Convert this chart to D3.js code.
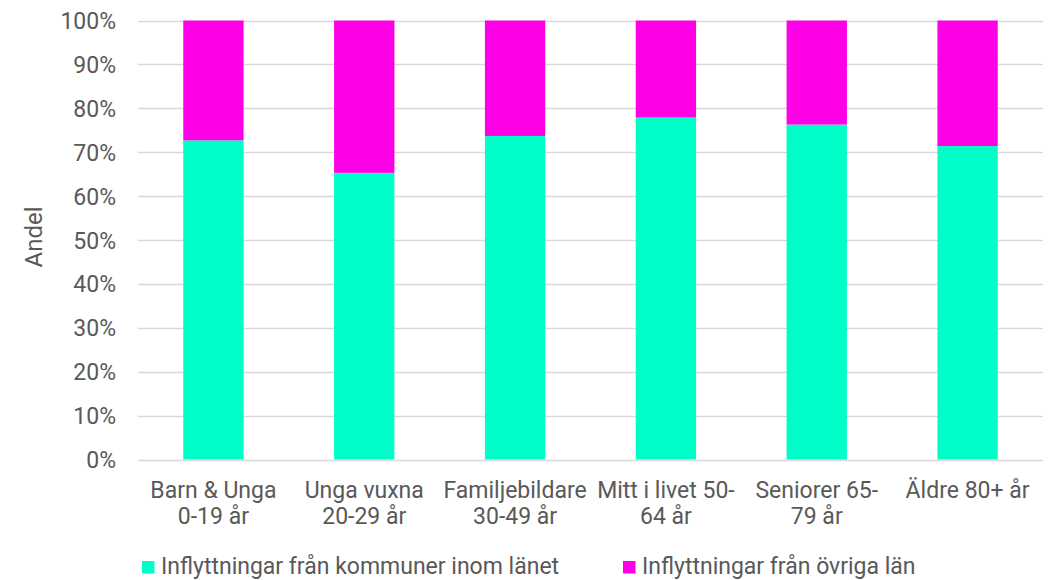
<!DOCTYPE html>
<html>
<head>
<meta charset="utf-8">
<script src="https://cdn.jsdelivr.net/npm/d3@7"></script>
<style>
  html, body { margin: 0; padding: 0; background: #fff; }
  svg { display: block; font-family: Roboto, "Noto Sans", sans-serif; }
</style>
</head>
<body>
<svg id="chart" width="1053" height="580"></svg>
<script>
// Age groups (each label split into its wrapped lines)
const categories = [
  ["Barn & Unga", "0-19 år"],
  ["Unga vuxna", "20-29 år"],
  ["Familjebildare", "30-49 år"],
  ["Mitt i livet 50-", "64 år"],
  ["Seniorer 65-", "79 år"],
  ["Äldre 80+ år"]
];
// Share of in-migration from municipalities within the county (%)
const withinCounty = [72.7, 65.3, 73.7, 77.9, 76.3, 71.4];
// Share of in-migration from other counties (%)
const otherCounties = withinCounty.map(v => 100 - v);
const seriesNames = ["Inflyttningar från kommuner inom länet", "Inflyttningar från övriga län"];
const seriesColors = ["#00FFC8", "#FF00E6"];
const yTicks = [0, 10, 20, 30, 40, 50, 60, 70, 80, 90, 100];

const svg = d3.select("#chart");
const plotLeft = 138, plotRight = 1043;
const fontSize = 23;

const x = d3.scaleBand()
  .domain(d3.range(categories.length))
  .range([plotLeft, plotRight])
  .paddingInner(0.6)
  .paddingOuter(0.3);

const y = d3.scaleLinear().domain([0, 100]).range([459.5, 20.5]);

const textColor = "#595959";

// gridlines
svg.append("g")
  .selectAll("line")
  .data(yTicks)
  .join("line")
  .attr("x1", plotLeft)
  .attr("x2", plotRight)
  .attr("y1", d => Math.round(y(d)) + 0.5)
  .attr("y2", d => Math.round(y(d)) + 0.5)
  .attr("stroke", "#d9d9d9")
  .attr("stroke-width", 1.5);

// y axis labels
const yAxis = d3.axisLeft(y).tickValues(yTicks).tickFormat(d => d + "%").tickSize(0).tickPadding(0);
const yg = svg.append("g").attr("transform", "translate(116,0)").call(yAxis);
yg.select(".domain").remove();
yg.selectAll("text")
  .attr("fill", textColor)
  .attr("font-size", fontSize)
  .attr("font-family", "Roboto, 'Noto Sans', sans-serif")
  .attr("dy", "0.35em");

// stacked data
const rows = categories.map((c, i) => ({ i, a: withinCounty[i], b: otherCounties[i] }));
const stack = d3.stack().keys(["a", "b"]);
const layers = stack(rows);

svg.append("g")
  .selectAll("g")
  .data(layers)
  .join("g")
  .attr("fill", (d, k) => seriesColors[k])
  .selectAll("rect")
  .data(d => d)
  .join("rect")
  .attr("x", d => x(d.data.i))
  .attr("width", x.bandwidth())
  .attr("y", d => y(d[1]))
  .attr("height", d => y(d[0]) - y(d[1]));

// x axis category labels, one text per wrapped line
const xg = svg.append("g");
categories.forEach((lines, i) => {
  lines.forEach((ln, j) => {
    xg.append("text")
      .attr("x", x(i) + x.bandwidth() / 2)
      .attr("y", 498 + j * 25.5)
      .attr("text-anchor", "middle")
      .attr("fill", textColor)
      .attr("font-size", fontSize)
      .text(ln);
  });
});

// y axis title
svg.append("text")
  .attr("transform", "translate(41.5,237) rotate(-90)")
  .attr("text-anchor", "middle")
  .attr("fill", textColor)
  .attr("font-size", 24)
  .text("Andel");

// legend
const legendX = [142, 623];
const lg = svg.append("g");
seriesNames.forEach((name, k) => {
  lg.append("rect")
    .attr("x", legendX[k])
    .attr("y", 561)
    .attr("width", 12.5)
    .attr("height", 12.5)
    .attr("fill", seriesColors[k]);
  lg.append("text")
    .attr("x", legendX[k] + 19)
    .attr("y", 574)
    .attr("fill", textColor)
    .attr("font-size", fontSize)
    .text(name);
});
</script>
</body>
</html>
